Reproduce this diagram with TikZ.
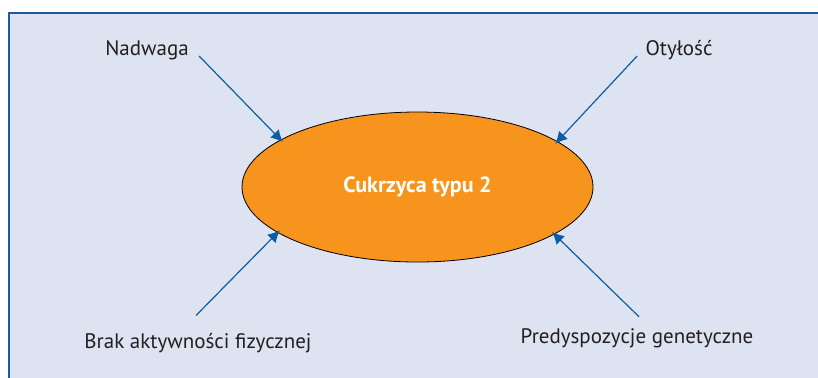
\documentclass[tikz,border=0pt]{standalone}
\usepackage{fontspec}
\setmainfont{PT Sans}
\usepackage{tikz}
\usetikzlibrary{shapes.geometric,arrows.meta}
\definecolor{panel}{RGB}{222,227,241}
\definecolor{frameblue}{RGB}{30,90,160}
\definecolor{arrowblue}{RGB}{12,94,160}
\definecolor{sugar}{RGB}{247,148,30}
\definecolor{ink}{RGB}{35,31,32}

\begin{document}
\begin{tikzpicture}[x=0.5pt, y=-0.5pt,
    every node/.style = {font=\fontsize{10.5}{12}\selectfont, text=ink, inner sep=0pt},
    disease/.style = {ellipse, draw=black, line width=0.4pt, fill=sugar, minimum width=175.5pt,
      minimum height=75pt, outer sep=0pt, text=white, font=\fontsize{11}{13}\selectfont\bfseries},
    cause/.style = {-{Latex[length=6pt,width=6pt]}, draw=arrowblue, line width=0.6pt, shorten >=-1.5pt}
    ]
    \useasboundingbox (0,0) rectangle (818,377);
    \draw[frameblue, fill=panel, line width=0.6pt] (9,13) rectangle (822,381);
    \node[disease] (d) at (417.5,187) {Cukrzyca typu 2};
    \node[anchor=base] (nadwaga) at (147,55) {Nadwaga};
    \node[anchor=base] (otylosc) at (679,55) {Otyłość};
    \node[anchor=base] (brak) at (198,348) {Brak aktywności fizycznej};
    \node[anchor=base] (predys) at (637,343) {Predyspozycje genetyczne};
    \draw[cause] ([shift={(10,1)}]nadwaga.base east) -- (d.161.5);
    \draw[cause] ([shift={(-8,1)}]otylosc.base west) -- (d.18.5);
    \draw[cause] ([shift={(-2,-17)}]brak.north) -- (d.198.5);
    \draw[cause] ([shift={(2,-11)}]predys.north) -- (d.341.5);
\end{tikzpicture}
\end{document}
